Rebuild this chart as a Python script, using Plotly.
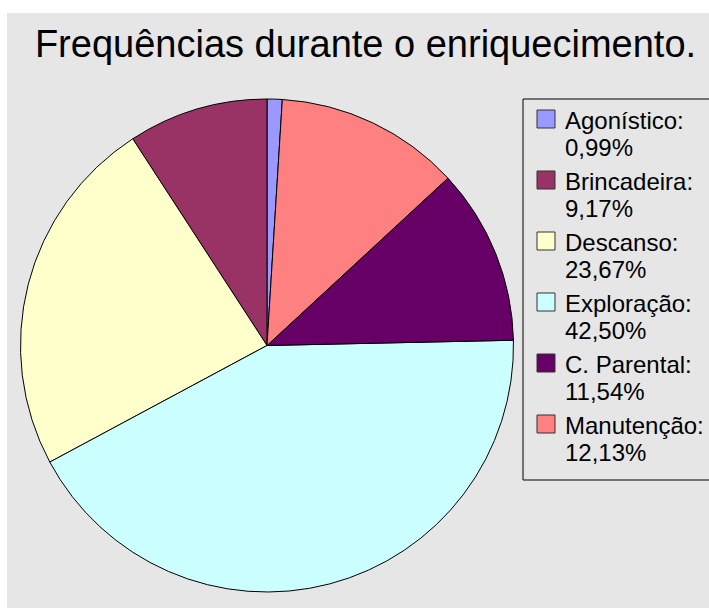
import plotly.graph_objects as go

categories = ["Agonístico", "Brincadeira", "Descanso", "Exploração", "C. Parental", "Manutenção"]
values = [0.99, 9.17, 23.67, 42.50, 11.54, 12.13]
pct_labels = ["0,99%", "9,17%", "23,67%", "42,50%", "11,54%", "12,13%"]
colors = ["#9999ff", "#993366", "#ffffcc", "#ccffff", "#660066", "#ff8080"]

W, H = 709, 608
BG = "#e6e6e6"


def px(x):
    return x / W


def py(y):
    return 1 - y / H


# pie geometry in pixels
cx, cy, r = 267, 345.5, 246.5

fig = go.Figure(go.Pie(
    labels=categories,
    values=values,
    marker=dict(colors=colors, line=dict(color="black", width=1)),
    sort=False,
    direction="counterclockwise",
    rotation=0,
    textinfo="none",
    hoverinfo="label+percent",
    domain=dict(x=[px(cx - r), px(cx + r)], y=[py(cy + r), py(cy - r)]),
))

shapes = [
    dict(type="rect", xref="paper", yref="paper", x0=px(7), x1=px(W + 10), y0=py(H + 10), y1=py(13),
         fillcolor=BG, line=dict(width=0), layer="below"),
    # legend box
    dict(type="rect", xref="paper", yref="paper", x0=px(523), x1=px(W + 20), y0=py(480), y1=py(99),
         fillcolor=BG, line=dict(color="black", width=1), layer="below"),
]
annotations = []
FS = 24
for i, (c, p, col) in enumerate(zip(categories, pct_labels, colors)):
    top = 110 + 61 * i
    shapes.append(dict(type="rect", xref="paper", yref="paper", x0=px(537), x1=px(555),
                       y0=py(top + 18), y1=py(top), fillcolor=col,
                       line=dict(color="#333333", width=1)))
    annotations.append(dict(xref="paper", yref="paper", x=px(563), y=py(120 + 61 * i),
                            xanchor="left", yanchor="middle", showarrow=False,
                            text=f"{c}:", font=dict(size=FS, color="black")))
    annotations.append(dict(xref="paper", yref="paper", x=px(563), y=py(147.6 + 61 * i),
                            xanchor="left", yanchor="middle", showarrow=False,
                            text=p, font=dict(size=FS, color="black")))

fig.update_layout(
    width=W, height=H,
    margin=dict(l=0, r=0, t=0, b=0),
    paper_bgcolor="white",
    plot_bgcolor="rgba(0,0,0,0)",
    font=dict(family="Liberation Sans, Arial, sans-serif", color="black"),
    title=dict(text="Frequências durante o enriquecimento.", x=px((38 + 693) / 2), xanchor="center",
               y=py(44), yanchor="middle", font=dict(size=38, color="black")),
    showlegend=False,
    shapes=shapes,
    annotations=annotations,
)

fig.write_html("out.html", config={"displayModeBar": False},
               post_script="document.body.style.margin='0';document.body.style.overflow='hidden';")
